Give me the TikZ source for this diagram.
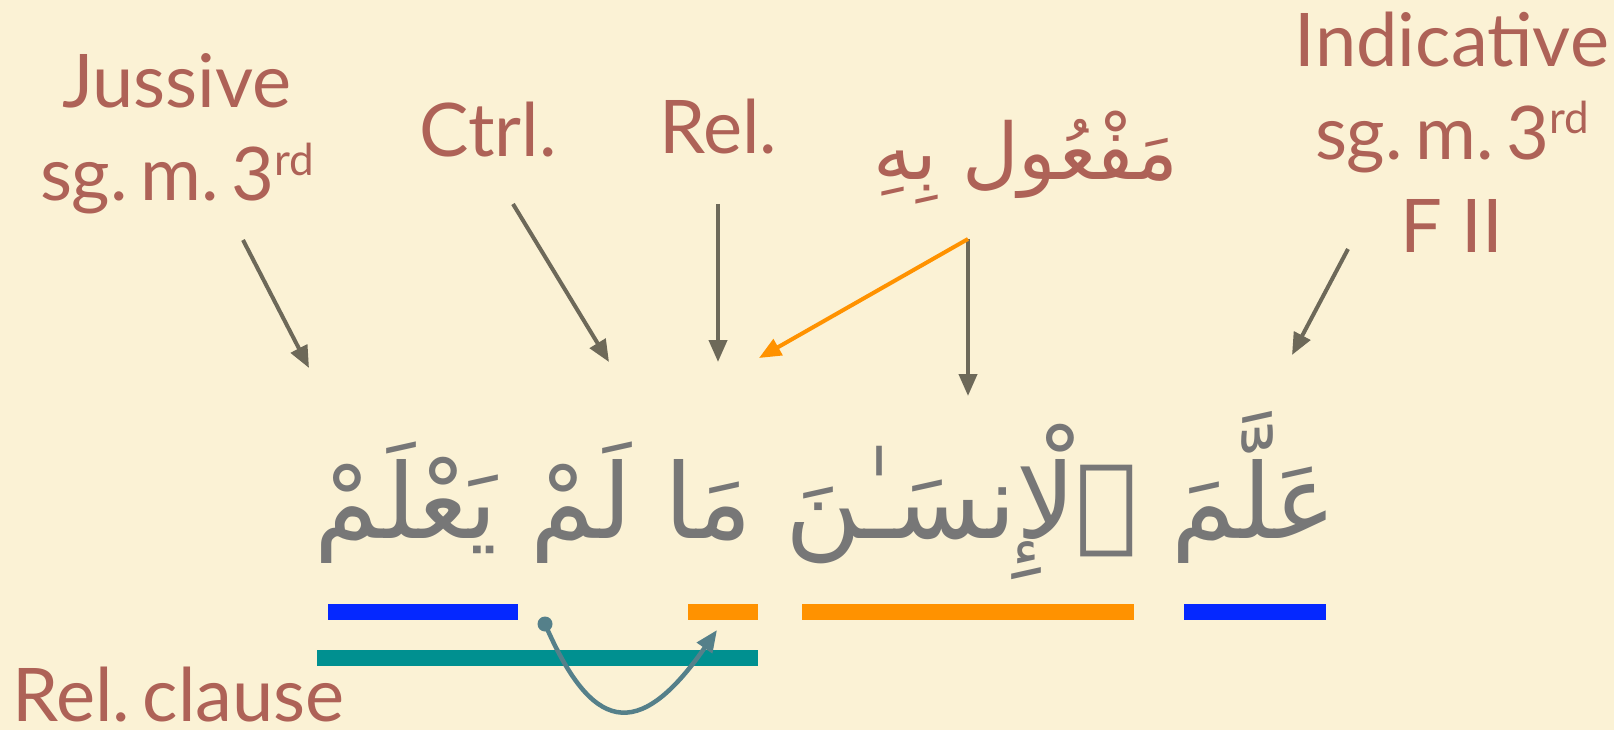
\documentclass[tikz,border=0pt]{standalone}
\usepackage{fontspec}
\setmainfont{Lato}
\newfontfamily\arabicfont[Script=Arabic]{DejaVu Sans}
\TeXXeTstate=1
\usetikzlibrary{arrows.meta}
\definecolor{bgc}{HTML}{FBF2D5}
\definecolor{lbl}{HTML}{AE6257}
\definecolor{arr}{HTML}{6D6959}
\definecolor{argray}{HTML}{777777}
\definecolor{orng}{HTML}{FF9200}
\definecolor{blu}{HTML}{0528FF}
\definecolor{tealc}{HTML}{009090}
\definecolor{curvec}{HTML}{55808A}
\newcommand{\rdsup}{\raisebox{0.34em}{\fontsize{44}{44}\selectfont rd}}
\newcommand{\tsp}{\hspace{0.17em}}
\begin{document}
\begin{tikzpicture}[x=1pt,y=-1pt,
  lab/.style={text=lbl, font=\fontsize{74}{93}\selectfont, inner sep=0pt, align=center},
  pointer/.style={draw=arr, line width=4pt, -{Triangle[length=22pt,width=18pt]}},
  opointer/.style={draw=orng, line width=4pt, -{Triangle[length=22pt,width=18pt]}},
  bar/.style={line width=16pt},
  curvearrow/.style={draw=curvec, line width=4.5pt, -{Triangle[length=22pt,width=18pt]}}]
\fill[bgc] (0,0) rectangle (1614,730);
\useasboundingbox (0,0) rectangle (1614,730);

% labels
\node[lab, anchor=base] (jus) at (177,201) {Jussive\\sg.\tsp m.\tsp 3\rdsup};
\node[lab, anchor=base] (ctrl) at (488,157) {Ctrl.};
\node[lab, anchor=base] (rel) at (718,154) {Rel.};
\node[lab, anchor=base, font=\arabicfont\fontsize{78}{78}\selectfont] (maf) at (1026,180) {\beginR مَفْعُول بِهِ\endR};
\node[lab, anchor=base] (ind) at (1452,252) {Indicative\\sg.\tsp m.\tsp 3\rdsup\\F II};
\node[lab, anchor=base west] (relcl) at (12,721) {Rel.\tsp clause};

% main Arabic sentence
\node[text=argray, inner sep=0pt, anchor=base, font=\arabicfont\fontsize{104}{104}\selectfont] (ayah) at (826,538) {\beginR عَلَّمَ ٱلْإِنسَـٰنَ مَا لَمْ يَعْلَمْ\endR};

% arrow coordinates
\coordinate (jusS) at (243,240);  \coordinate (jusE) at (309,368);
\coordinate (ctrlS) at (513,204); \coordinate (ctrlE) at (609,362);
\coordinate (relS) at (718,204);  \coordinate (relE) at (718,362);
\coordinate (mafS) at (968,239);  \coordinate (mafE) at (759,358);
\coordinate (mafD) at (968,396);
\coordinate (indS) at (1348,249); \coordinate (indE) at (1292,355);

\draw[pointer] (jusS) -- (jusE);
\draw[pointer] (ctrlS) -- (ctrlE);
\draw[pointer] (relS) -- (relE);
\draw[pointer] (mafS) -- (mafD);
\draw[opointer] (mafS) -- (mafE);
\draw[pointer] (indS) -- (indE);

% bars
\coordinate (b1a) at (328,612);  \coordinate (b1b) at (518,612);
\coordinate (o1a) at (688,612);  \coordinate (o1b) at (758,612);
\coordinate (o2a) at (802,612);  \coordinate (o2b) at (1134,612);
\coordinate (b2a) at (1184,612); \coordinate (b2b) at (1326,612);
\coordinate (ta) at (317,658);   \coordinate (tb) at (758,658);
\draw[bar, blu] (b1a) -- (b1b);
\draw[bar, orng] (o1a) -- (o1b);
\draw[bar, orng] (o2a) -- (o2b);
\draw[bar, blu] (b2a) -- (b2b);
\draw[bar, tealc] (ta) -- (tb);

% curved arrow
\coordinate (cs) at (545,624);
\coordinate (ce) at (717,630);
\fill[curvec] (cs) circle (7.5);
\draw[curvearrow] (cs) .. controls (591,730) and (637,745) .. (ce);
\end{tikzpicture}
\end{document}
